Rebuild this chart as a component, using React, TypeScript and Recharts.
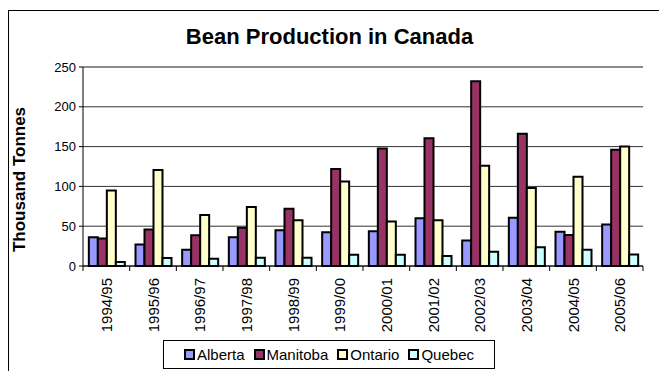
import React from 'react';
import { BarChart, Bar, XAxis, YAxis, CartesianGrid, Legend, ReferenceLine } from 'recharts';

// Bean production by province, thousand tonnes
const SEASONS = ['1994/95', '1995/96', '1996/97', '1997/98', '1998/99', '1999/00', '2000/01', '2001/02', '2002/03', '2003/04', '2004/05', '2005/06'];
const ALBERTA = [36, 27, 20.5, 36, 45, 42.5, 43.5, 60, 32, 60.5, 43, 52];
const MANITOBA = [34.5, 46, 38.5, 48, 72, 122, 147.5, 160.5, 232, 166, 39, 146];
const ONTARIO = [95, 120.5, 64, 74, 57.5, 106, 56, 57.5, 126, 98, 112, 150];
const QUEBEC = [5, 10, 9, 10.5, 10.5, 14, 14, 12.5, 18, 23.5, 20.5, 14.5];
const PROVINCES = ['Alberta', 'Manitoba', 'Ontario', 'Quebec'];
const Y_TICKS = [0, 50, 100, 150, 200, 250];

const COLORS = ['#9999FF', '#993366', '#FFFFCC', '#CCFFFF'];
const FONT = 'Arial, "Liberation Sans", sans-serif';

const WIDTH = 659;
const HEIGHT = 371;
const MARGIN = { top: 67, right: 16, left: 20, bottom: 0 };
const Y_AXIS_W = 63;
const PLOT_W = WIDTH - MARGIN.left - MARGIN.right - Y_AXIS_W;
const BAND = PLOT_W / SEASONS.length;

const data = SEASONS.map((season, i) => ({
  season,
  Alberta: ALBERTA[i],
  Manitoba: MANITOBA[i],
  Ontario: ONTARIO[i],
  Quebec: QUEBEC[i],
}));

// vertical season label plus a tick mark on the category boundary
const SeasonTick = ({ x, y, payload, index }: any) => {
  const half = BAND / 2;
  return (
    <g>
      <line x1={x - half} y1={y - 5} x2={x - half} y2={y} stroke="#000" />
      {index === SEASONS.length - 1 && (
        <line x1={x + half} y1={y - 5} x2={x + half} y2={y} stroke="#000" />
      )}
      <text
        x={x}
        y={y + 7}
        transform={`rotate(-90, ${x}, ${y + 7})`}
        textAnchor="end"
        dominantBaseline="central"
        fontFamily={FONT}
        fontSize={15}
        fill="#000"
      >
        {payload.value}
      </text>
    </g>
  );
};

const AxisTitle = ({ viewBox }: any) => {
  const cx = viewBox.x - 1;
  const cy = viewBox.y + viewBox.height / 2 + 13;
  return (
    <text
      x={cx}
      y={cy}
      transform={`rotate(-90, ${cx}, ${cy})`}
      textAnchor="middle"
      dominantBaseline="central"
      fontFamily={FONT}
      fontSize={17}
      fontWeight="bold"
      fill="#000"
    >
      Thousand Tonnes
    </text>
  );
};

const renderLegend = () => (
  <div
    style={{
      boxSizing: 'border-box',
      width: '100%',
      height: '100%',
      border: '1px solid #000',
      background: '#fff',
      display: 'flex',
      alignItems: 'center',
      justifyContent: 'center',
      gap: 9,
      fontFamily: FONT,
      fontSize: 15,
      color: '#000',
    }}
  >
    {PROVINCES.map((name, i) => (
      <span key={name} style={{ display: 'flex', alignItems: 'center' }}>
        <span
          style={{
            boxSizing: 'border-box',
            width: 11,
            height: 11,
            border: '2px solid #000',
            background: COLORS[i],
            marginRight: 2,
          }}
        />
        {name}
      </span>
    ))}
  </div>
);

export default function App() {
  return (
    <div style={{ position: 'fixed', left: 0, top: 0, width: WIDTH, height: HEIGHT, overflow: 'hidden', background: '#fff' }}>
      <div
        style={{
          position: 'absolute',
          left: 8,
          top: 10,
          width: WIDTH,
          height: HEIGHT,
          borderLeft: '1px solid #000',
          borderTop: '1px solid #000',
        }}
      />
      <div
        style={{
          position: 'absolute',
          left: 0,
          top: 24,
          width: WIDTH,
          textAlign: 'center',
          fontFamily: FONT,
          fontSize: 22,
          fontWeight: 'bold',
          lineHeight: '26px',
        }}
      >
        Bean Production in Canada
      </div>
      <div style={{ position: 'absolute', left: 0, top: 0 }}>
        <BarChart width={WIDTH} height={HEIGHT} data={data} margin={MARGIN} barCategoryGap="12.5%" barGap={0}>
          <CartesianGrid vertical={false} stroke="#333" />
          <XAxis
            dataKey="season"
            interval={0}
            height={105}
            tickSize={5}
            tickMargin={0}
            tickLine={false}
            axisLine={{ stroke: '#000' }}
            tick={<SeasonTick />}
          />
          <YAxis
            width={Y_AXIS_W}
            domain={[0, 250]}
            ticks={Y_TICKS}
            tickSize={4}
            tickMargin={3}
            tickLine={{ stroke: '#000' }}
            axisLine={{ stroke: '#000' }}
            tick={{ fill: '#000', fontSize: 13, fontFamily: FONT }}
            label={<AxisTitle />}
          />
          <YAxis yAxisId="frame" orientation="right" width={0} domain={[0, 250]} tick={false} tickLine={false} axisLine={{ stroke: '#888', strokeWidth: 1.5 }} />
          <ReferenceLine y={250} stroke="#888" strokeWidth={1.5} />
          {PROVINCES.map((name, i) => (
            <Bar key={name} dataKey={name} fill={COLORS[i]} stroke="#000" strokeWidth={2} isAnimationActive={false} />
          ))}
          <Legend
            verticalAlign="middle"
            align="center"
            content={renderLegend}
            wrapperStyle={{ left: 163, top: 340, right: 'auto', bottom: 'auto', width: 332, height: 29 }}
          />
        </BarChart>
      </div>
    </div>
  );
}
